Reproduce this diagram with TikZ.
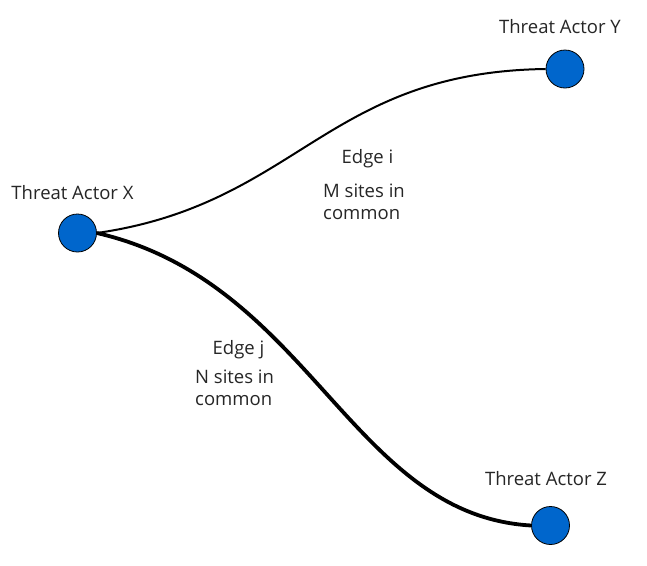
\documentclass[tikz,border=0pt]{standalone}
\usepackage{fontspec}
\setmainfont{Open Sans}
\definecolor{actorblue}{HTML}{0066CC}
\begin{document}
\begin{tikzpicture}[x=1pt,y=-1pt,
  actor/.style={circle,draw=black,line width=0.8pt,fill=actorblue,minimum size=38pt,inner sep=0pt},
  lbl/.style={font=\fontsize{18.5}{22}\selectfont,inner sep=0pt,text=black!85},
  thinedge/.style={line width=2pt},
  thickedge/.style={line width=3.8pt}]
\useasboundingbox (0,0) rectangle (647,565);
\node[actor] (X) at (77.5,233) {};
\node[actor] (Y) at (565,69) {};
\node[actor] (Z) at (550.5,525.5) {};
\draw[thinedge] (X.east) .. controls (298,204) and (326,72) .. (Y.west);
\draw[thickedge] (X.east) .. controls (310,282) and (351,515) .. (Z.west);
\node[lbl,anchor=base] (lx) at (72.5,199) {Threat Actor X};
\node[lbl,anchor=base] (ly) at (560,33) {Threat Actor Y};
\node[lbl,anchor=base] (lz) at (546,485) {Threat Actor Z};
\node[lbl,anchor=base] (ei) at (367.5,163) {Edge i};
\node[lbl,anchor=north west,align=left] (mi) at (323,183.5) {M sites in\\common};
\node[lbl,anchor=base] (ej) at (238.5,354) {Edge j};
\node[lbl,anchor=north west,align=left] (nj) at (195,369.5) {N sites in\\common};
\end{tikzpicture}
\end{document}
